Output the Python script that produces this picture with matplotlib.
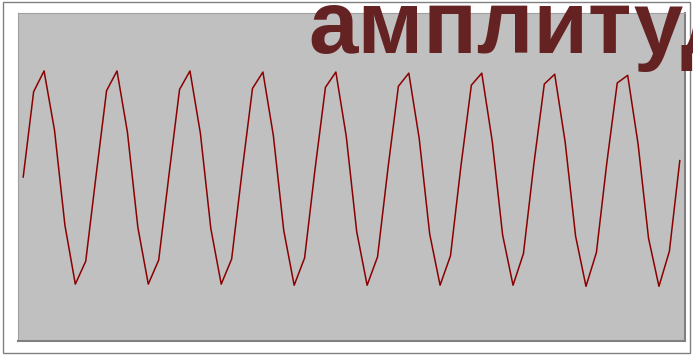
import matplotlib
matplotlib.use("Agg")
import matplotlib.pyplot as plt
from matplotlib.patches import Rectangle

# Sampled signal values, one per category
values = [
    0.00, 0.78, 0.97, 0.43, -0.44, -0.98, -0.77,
    0.02, 0.79, 0.97, 0.41, -0.46, -0.98, -0.76,
    0.03, 0.80, 0.97, 0.40, -0.47, -0.98, -0.75,
    0.05, 0.81, 0.96, 0.38, -0.49, -0.99, -0.74,
    0.07, 0.82, 0.96, 0.37, -0.50, -0.99, -0.73,
    0.08, 0.83, 0.95, 0.35, -0.52, -0.99, -0.72,
    0.10, 0.84, 0.95, 0.33, -0.53, -0.99, -0.70,
    0.12, 0.85, 0.94, 0.32, -0.54, -1.00, -0.69,
    0.13, 0.86, 0.93, 0.30, -0.56, -1.00, -0.68,
    0.15,
]
categories = list(range(len(values)))
title = "амплитуда"

W, H = 693, 355
fig = plt.figure(figsize=(W / 100, H / 100), dpi=100)
fig.patch.set_facecolor("white")

# Outer chart border
fig.add_artist(Rectangle((3 / W, 2 / H), 687 / W, 351 / H,
                         transform=fig.transFigure, fill=False,
                         edgecolor="#808080", linewidth=1.0))

ax = fig.add_axes([18 / W, 14 / H, 667 / W, 328 / H])
ax.set_facecolor("#C0C0C0")
ax.plot(categories, values, color="#8B0000", linewidth=1.1)
ax.set_xlim(-0.5, len(values) - 0.5)
ax.set_ylim(-1.5, 1.5)
ax.set_xticks([])
ax.set_yticks([])
for side in ("left", "top"):
    ax.spines[side].set_color("#A0A0A0")
    ax.spines[side].set_linewidth(0.8)
for side in ("right", "bottom"):
    ax.spines[side].set_color("#808080")
    ax.spines[side].set_linewidth(1.5)

fig.text(308 / W, 1 - 53 / H, title, ha="left", va="baseline",
         fontsize=64, fontweight="bold", color="#652222",
         family=["Liberation Sans", "DejaVu Sans"])

fig.savefig("out.png", dpi=100)
